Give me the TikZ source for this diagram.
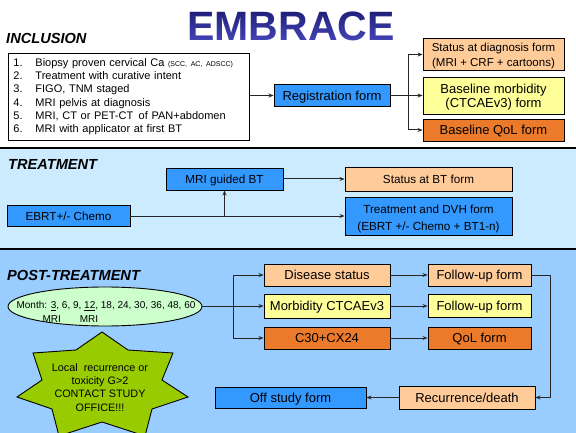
\documentclass[tikz,border=0pt]{standalone}
\usepackage{fontspec}
\setmainfont{Liberation Sans}
\usetikzlibrary{arrows.meta,shapes.geometric,calc,fadings}
\definecolor{bluebox}{HTML}{3399FF}
\definecolor{peach}{HTML}{FFCC99}
\definecolor{lyellow}{HTML}{FFFF99}
\definecolor{orangebox}{HTML}{EB7A2A}
\definecolor{bandA}{HTML}{CCEBFF}
\definecolor{bandB}{HTML}{99CCFF}
\definecolor{ellfill}{HTML}{CCFFCC}
\definecolor{starfill}{HTML}{99CC00}
\definecolor{titletop}{HTML}{1A1A70}
\definecolor{titlebot}{HTML}{4A4AC0}
\newcommand{\twolines}[2]{\raisebox{-2pt}[\height][\depth]{\begin{tabular}{@{}c@{}}#1\\#2\end{tabular}}}
\begin{tikzfadingfrompicture}[name=embrfade]
  \node[inner sep=0pt, text=transparent!0, font=\fontsize{41}{41}\selectfont\bfseries] {EMBRACE};
\end{tikzfadingfrompicture}
\begin{document}
\begin{tikzpicture}[x=1pt,y=-1pt,
  box/.style={draw=black, line width=0.9pt, inner sep=0pt},
  fsA/.style={font=\fontsize{13}{14}\selectfont},
  fsB/.style={font=\fontsize{11.7}{16.5}\selectfont},
  fsC/.style={font=\fontsize{11.5}{15}\selectfont},
  oneA/.style={fsA, text height=9.3pt, text depth=0pt},
  oneB/.style={fsB, text height=8.4pt, text depth=0pt},
  seclabel/.style={inner sep=0pt, font=\fontsize{14.6}{16}\selectfont\bfseries\itshape},
  conn/.style={line width=1pt, draw=black!85, -{Stealth[length=5pt,width=4pt]}},
  plainline/.style={line width=1pt, draw=black!85},
]
\useasboundingbox (0,0) rectangle (576,433);
\clip (0,0) rectangle (576,433);
% bands
\fill[bandA] (0,148) rectangle (576,249);
\fill[bandB] (0,249) rectangle (576,433);
\draw[line width=1.2pt] (0,148) -- (576,148);
\draw[line width=1.2pt] (0,249) -- (576,249);

% title and section labels
\coordinate (titlec) at (291,26);
\shade[path fading=embrfade, fit fading=false, fading transform={shift={(titlec)}},
       top color=titletop, bottom color=titlebot] (180,6) rectangle (402,46);
\node[seclabel, anchor=west] (incl) at (6,38.5) {INCLUSION};
\node[seclabel, anchor=west] (treat) at (8,164) {TREATMENT};
\node[seclabel, anchor=west] (post) at (7,275) {POST-TREATMENT};

% inclusion
\node[box, fill=white, anchor=north west, minimum width=241pt, minimum height=87pt,
      text width=231pt, inner xsep=5pt, align=left, font=\fontsize{11}{13.3}\selectfont] (list) at (8,53)
 {\begin{tabular}{@{}p{22pt}@{}l@{}}
  1. & Biopsy proven cervical Ca {\fontsize{7}{8}\selectfont(SCC, AC, ADSCC)}\\
  2. & Treatment with curative intent\\
  3. & FIGO, TNM staged\\
  4. & MRI pelvis at diagnosis\\
  5. & MRI, CT or PET-CT\, of PAN+abdomen\\
  6. & MRI with applicator at first BT
  \end{tabular}};
\node[box, oneA, fill=bluebox, minimum width=116pt, minimum height=22pt] (reg) at (332,95.5) {Registration form};
\node[box, fsC, fill=peach, minimum width=141pt, minimum height=32pt] (sdiag) at (493.5,54.5) {\twolines{Status at diagnosis form}{(MRI + CRF + cartoons)}};
\node[box, fsA, fill=lyellow, minimum width=141pt, minimum height=37pt] (bmorb) at (493.5,95.5) {\twolines{Baseline morbidity}{(CTCAEv3) form}};
\node[box, oneA, fill=orangebox, minimum width=141pt, minimum height=22pt] (bqol) at (493.5,130) {Baseline QoL form};

\coordinate (rb) at (408,95.5);
\draw[conn] (list.east |- reg.west) -- (reg.west);
\draw[plainline] (reg.east) -- (rb);
\draw[conn] (rb) -- (bmorb.west);
\draw[conn] (rb) |- (sdiag.west);
\draw[conn] (rb) |- (bqol.west);

% treatment
\node[box, oneB, fill=bluebox, minimum width=117pt, minimum height=22pt] (mribt) at (224.5,179) {MRI guided BT};
\node[box, oneB, fill=peach, minimum width=167pt, minimum height=24pt] (sbt) at (428.5,179) {Status at BT form};
\node[box, oneB, fill=bluebox, minimum width=123pt, minimum height=21pt] (ebrt) at (68.5,216) {EBRT+/- Chemo};
\node[box, fsB, fill=bluebox, minimum width=167pt, minimum height=38pt] (dvh) at (428.5,216.5) {\twolines{Treatment and DVH form}{(EBRT +/- Chemo + BT1-n)}};
\coordinate (tb) at (mribt.south |- ebrt.east);
\draw[conn] (ebrt.east) -- (ebrt.east -| dvh.west);
\draw[conn] (tb) -- (mribt.south);
\draw[conn] (mribt.east) -- (sbt.west);

% post-treatment
\node[ellipse, draw=black, line width=0.9pt, fill=ellfill, inner sep=0pt, minimum width=194pt, minimum height=39pt] (months) at (105,306.5) {};
\node[inner sep=0pt, align=left, font=\fontsize{10}{14}\selectfont] (monthtxt) at (106,312)
  {Month: \underline{3}, 6, 9, \underline{12}, 18, 24, 30, 36, 48, 60\\
   \hspace*{26pt}MRI\hspace{19pt}MRI};

\draw[line width=0.9pt, draw=black, fill=starfill]
  (102,332) -- (128,350) -- (173,353) -- (162,380) -- (188,397) -- (152,409) -- (145,436)
  -- (102,422) -- (59,436) -- (52,409) -- (17,397) -- (42,380) -- (33,353) -- (76,350) -- cycle;
\node[inner sep=0pt, align=center, font=\fontsize{10.8}{13.1}\selectfont] (startxt) at (100,387.5)
  {Local\ \ recurrence or\\toxicity G>2\\CONTACT STUDY\\OFFICE!!!};

\node[box, oneA, fill=peach, minimum width=126pt, minimum height=22pt] (dis) at (327,275) {Disease status};
\node[box, oneA, fill=lyellow, minimum width=126pt, minimum height=24pt] (morb) at (327,306) {Morbidity CTCAEv3};
\node[box, oneA, fill=orangebox, minimum width=126pt, minimum height=22pt] (c30) at (327,338) {C30+CX24};
\node[box, oneA, fill=peach, minimum width=103pt, minimum height=22pt] (fu1) at (479.5,275) {Follow-up form};
\node[box, oneA, fill=lyellow, minimum width=103pt, minimum height=23pt] (fu2) at (479.5,306) {Follow-up form};
\node[box, oneA, fill=orangebox, minimum width=103pt, minimum height=22pt] (qol) at (479.5,338) {QoL form};
\node[box, oneA, fill=peach, minimum width=136pt, minimum height=23pt] (rec) at (467,397.5) {Recurrence/death};
\node[box, oneA, fill=bluebox, minimum width=151pt, minimum height=21pt] (off) at (290.5,397.5) {Off study form};

\coordinate (pb) at (233,306);
\coordinate (rc) at (550,0);
\draw[plainline] (months.east |- pb) -- (pb);
\draw[conn] (pb) -- (morb.west);
\draw[conn] (pb) |- (dis.west);
\draw[conn] (pb) |- (c30.west);
\draw[conn] (dis.east) -- (fu1.west);
\draw[conn] (morb.east) -- (fu2.west);
\draw[conn] (c30.east) -- (qol.west);
\draw[conn] (fu1.east) -- (fu1.east -| rc) |- (rec.east);
\draw[conn] (rec.west) -- (off.east);
\end{tikzpicture}
\end{document}
